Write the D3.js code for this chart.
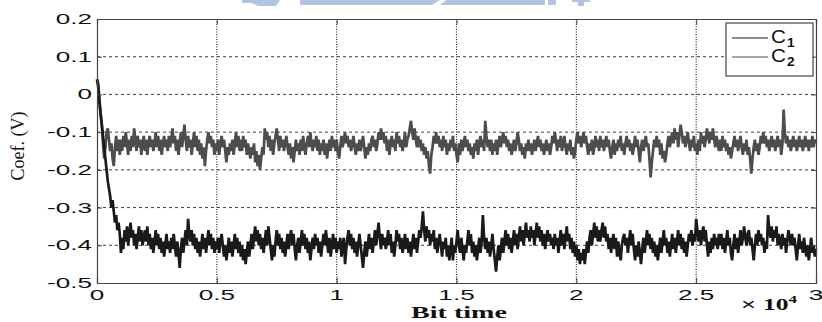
<!DOCTYPE html>
<html>
<head>
<meta charset="utf-8">
<script src="https://cdn.jsdelivr.net/npm/d3@7"></script>
<style>
  html, body { margin: 0; padding: 0; background: #fff; }
  svg { display: block; }
</style>
</head>
<body>
<svg id="chart" width="822" height="322"></svg>
<script>
// Adaptive equalizer tap coefficients over 30000 bit times, one sample every 50 bits.
const bitSpan = 30000;

const c1Values = [
  0.04, 0.02, -0.02, -0.05, -0.08, -0.11, -0.14, -0.17, -0.20, -0.23, -0.25, -0.27, -0.30, -0.28, -0.31, -0.34, -0.32, -0.36, -0.34, -0.37,
  -0.42, -0.38, -0.41, -0.36, -0.39, -0.35, -0.40, -0.37, -0.34, -0.38, -0.36, -0.40, -0.37, -0.41, -0.38, -0.35, -0.39, -0.36, -0.40, -0.38,
  -0.36, -0.39, -0.35, -0.40, -0.37, -0.41, -0.38, -0.42, -0.39, -0.36, -0.40, -0.37, -0.41, -0.38, -0.42, -0.39, -0.43, -0.40, -0.37, -0.41,
  -0.39, -0.42, -0.38, -0.41, -0.37, -0.40, -0.43, -0.39, -0.42, -0.46, -0.41, -0.38, -0.42, -0.39, -0.36, -0.40, -0.33, -0.37, -0.39, -0.36,
  -0.40, -0.37, -0.41, -0.38, -0.42, -0.39, -0.43, -0.40, -0.37, -0.41, -0.38, -0.42, -0.39, -0.36, -0.40, -0.37, -0.41, -0.38, -0.42, -0.39,
  -0.41, -0.38, -0.42, -0.39, -0.37, -0.40, -0.43, -0.40, -0.44, -0.41, -0.38, -0.42, -0.39, -0.43, -0.40, -0.37, -0.41, -0.38, -0.42, -0.39,
  -0.43, -0.40, -0.44, -0.41, -0.45, -0.42, -0.39, -0.43, -0.40, -0.37, -0.41, -0.38, -0.35, -0.39, -0.36, -0.40, -0.37, -0.41, -0.38, -0.42,
  -0.39, -0.36, -0.40, -0.35, -0.38, -0.41, -0.44, -0.40, -0.43, -0.39, -0.36, -0.40, -0.37, -0.41, -0.38, -0.42, -0.39, -0.43, -0.40, -0.37,
  -0.41, -0.38, -0.36, -0.40, -0.37, -0.41, -0.44, -0.40, -0.38, -0.42, -0.39, -0.36, -0.40, -0.37, -0.41, -0.38, -0.42, -0.39, -0.44, -0.41,
  -0.38, -0.41, -0.37, -0.40, -0.38, -0.42, -0.39, -0.43, -0.40, -0.37, -0.40, -0.36, -0.39, -0.42, -0.38, -0.43, -0.40, -0.37, -0.41, -0.38,
  -0.42, -0.39, -0.41, -0.38, -0.43, -0.40, -0.38, -0.45, -0.41, -0.38, -0.36, -0.40, -0.37, -0.41, -0.38, -0.42, -0.39, -0.43, -0.40, -0.37,
  -0.40, -0.43, -0.46, -0.42, -0.39, -0.43, -0.40, -0.37, -0.41, -0.38, -0.42, -0.39, -0.36, -0.40, -0.37, -0.34, -0.38, -0.41, -0.37, -0.40,
  -0.38, -0.41, -0.39, -0.36, -0.40, -0.37, -0.42, -0.39, -0.43, -0.40, -0.36, -0.39, -0.37, -0.41, -0.38, -0.42, -0.40, -0.37, -0.41, -0.38,
  -0.42, -0.39, -0.43, -0.40, -0.37, -0.41, -0.38, -0.42, -0.39, -0.36, -0.38, -0.35, -0.31, -0.36, -0.39, -0.35, -0.38, -0.36, -0.40, -0.37,
  -0.39, -0.36, -0.41, -0.38, -0.42, -0.39, -0.37, -0.40, -0.43, -0.39, -0.41, -0.38, -0.43, -0.40, -0.44, -0.41, -0.38, -0.44, -0.40, -0.42,
  -0.39, -0.36, -0.40, -0.42, -0.38, -0.41, -0.44, -0.40, -0.42, -0.39, -0.36, -0.40, -0.37, -0.42, -0.39, -0.43, -0.40, -0.44, -0.41, -0.38,
  -0.42, -0.39, -0.32, -0.38, -0.41, -0.38, -0.42, -0.39, -0.43, -0.40, -0.37, -0.41, -0.44, -0.47, -0.43, -0.40, -0.44, -0.41, -0.38, -0.42,
  -0.39, -0.36, -0.40, -0.37, -0.41, -0.38, -0.42, -0.39, -0.36, -0.40, -0.37, -0.41, -0.38, -0.35, -0.39, -0.36, -0.40, -0.37, -0.34, -0.38,
  -0.36, -0.39, -0.35, -0.38, -0.36, -0.40, -0.37, -0.34, -0.38, -0.35, -0.39, -0.36, -0.40, -0.37, -0.41, -0.38, -0.36, -0.39, -0.37, -0.40,
  -0.38, -0.41, -0.37, -0.40, -0.38, -0.42, -0.39, -0.36, -0.40, -0.37, -0.41, -0.38, -0.35, -0.39, -0.37, -0.41, -0.38, -0.42, -0.39, -0.43,
  -0.40, -0.44, -0.41, -0.45, -0.42, -0.44, -0.41, -0.45, -0.42, -0.39, -0.42, -0.38, -0.36, -0.40, -0.37, -0.34, -0.38, -0.35, -0.39, -0.36,
  -0.39, -0.36, -0.34, -0.38, -0.35, -0.39, -0.37, -0.41, -0.38, -0.42, -0.39, -0.37, -0.41, -0.38, -0.43, -0.39, -0.42, -0.44, -0.40, -0.38,
  -0.37, -0.40, -0.38, -0.42, -0.39, -0.36, -0.40, -0.37, -0.41, -0.44, -0.40, -0.43, -0.39, -0.42, -0.45, -0.41, -0.38, -0.42, -0.39, -0.36,
  -0.40, -0.37, -0.41, -0.38, -0.42, -0.39, -0.43, -0.40, -0.44, -0.41, -0.38, -0.42, -0.39, -0.36, -0.40, -0.38, -0.42, -0.39, -0.43, -0.40,
  -0.37, -0.41, -0.38, -0.42, -0.39, -0.36, -0.40, -0.37, -0.41, -0.38, -0.42, -0.39, -0.43, -0.40, -0.37, -0.39, -0.36, -0.40, -0.37, -0.39,
  -0.33, -0.36, -0.39, -0.36, -0.40, -0.37, -0.35, -0.39, -0.36, -0.40, -0.43, -0.39, -0.42, -0.38, -0.41, -0.37, -0.40, -0.38, -0.41, -0.37,
  -0.40, -0.37, -0.41, -0.38, -0.42, -0.39, -0.36, -0.40, -0.38, -0.42, -0.44, -0.40, -0.37, -0.41, -0.38, -0.42, -0.39, -0.36, -0.40, -0.38,
  -0.35, -0.38, -0.40, -0.37, -0.36, -0.40, -0.38, -0.41, -0.44, -0.40, -0.37, -0.40, -0.36, -0.39, -0.37, -0.40, -0.38, -0.42, -0.39, -0.41,
  -0.32, -0.36, -0.38, -0.35, -0.39, -0.36, -0.38, -0.35, -0.40, -0.37, -0.39, -0.41, -0.37, -0.40, -0.38, -0.42, -0.39, -0.36, -0.38, -0.40,
  -0.37, -0.40, -0.38, -0.41, -0.44, -0.40, -0.37, -0.41, -0.39, -0.42, -0.38, -0.41, -0.43, -0.40, -0.44, -0.41, -0.38, -0.42, -0.40, -0.43,
  -0.41
];

const c2Values = [
  0.04, 0.03, -0.01, -0.05, -0.08, -0.13, -0.17, -0.14, -0.10, -0.09, -0.12, -0.15, -0.13, -0.17, -0.19, -0.14, -0.11, -0.15, -0.12, -0.16,
  -0.12, -0.15, -0.11, -0.14, -0.10, -0.13, -0.16, -0.12, -0.15, -0.11, -0.14, -0.09, -0.12, -0.15, -0.11, -0.14, -0.12, -0.16, -0.13, -0.11,
  -0.15, -0.12, -0.16, -0.13, -0.11, -0.14, -0.12, -0.15, -0.13, -0.10, -0.14, -0.11, -0.15, -0.12, -0.16, -0.13, -0.11, -0.14, -0.12, -0.15,
  -0.11, -0.14, -0.12, -0.09, -0.13, -0.11, -0.15, -0.12, -0.16, -0.13, -0.10, -0.14, -0.11, -0.08, -0.12, -0.15, -0.11, -0.14, -0.12, -0.16,
  -0.13, -0.10, -0.14, -0.11, -0.15, -0.12, -0.16, -0.13, -0.17, -0.14, -0.19, -0.15, -0.12, -0.10, -0.13, -0.11, -0.14, -0.12, -0.16, -0.13,
  -0.15, -0.12, -0.16, -0.13, -0.11, -0.14, -0.12, -0.15, -0.18, -0.14, -0.16, -0.13, -0.15, -0.12, -0.16, -0.13, -0.10, -0.14, -0.11, -0.15,
  -0.12, -0.15, -0.11, -0.14, -0.12, -0.16, -0.13, -0.15, -0.17, -0.14, -0.16, -0.13, -0.18, -0.15, -0.19, -0.16, -0.20, -0.17, -0.14, -0.16,
  -0.09, -0.12, -0.10, -0.14, -0.11, -0.15, -0.12, -0.16, -0.13, -0.11, -0.09, -0.12, -0.15, -0.11, -0.14, -0.12, -0.15, -0.13, -0.11, -0.14,
  -0.16, -0.13, -0.17, -0.14, -0.18, -0.15, -0.12, -0.15, -0.13, -0.16, -0.12, -0.15, -0.11, -0.14, -0.16, -0.13, -0.11, -0.14, -0.10, -0.13,
  -0.15, -0.12, -0.14, -0.11, -0.15, -0.12, -0.16, -0.13, -0.15, -0.12, -0.16, -0.13, -0.17, -0.14, -0.12, -0.15, -0.11, -0.14, -0.12, -0.15,
  -0.12, -0.15, -0.17, -0.14, -0.11, -0.14, -0.12, -0.10, -0.13, -0.11, -0.14, -0.12, -0.15, -0.13, -0.11, -0.14, -0.16, -0.13, -0.15, -0.12,
  -0.15, -0.13, -0.11, -0.14, -0.17, -0.14, -0.16, -0.13, -0.15, -0.12, -0.11, -0.14, -0.12, -0.15, -0.13, -0.10, -0.12, -0.09, -0.12, -0.10,
  -0.13, -0.11, -0.15, -0.12, -0.16, -0.13, -0.11, -0.14, -0.12, -0.15, -0.10, -0.13, -0.11, -0.14, -0.12, -0.15, -0.13, -0.10, -0.14, -0.12,
  -0.11, -0.09, -0.07, -0.10, -0.12, -0.09, -0.12, -0.14, -0.11, -0.14, -0.12, -0.15, -0.13, -0.16, -0.14, -0.17, -0.15, -0.19, -0.21, -0.16,
  -0.14, -0.11, -0.13, -0.10, -0.13, -0.11, -0.14, -0.12, -0.15, -0.11, -0.14, -0.12, -0.16, -0.13, -0.15, -0.12, -0.14, -0.11, -0.15, -0.13,
  -0.16, -0.18, -0.13, -0.16, -0.12, -0.15, -0.13, -0.11, -0.14, -0.12, -0.15, -0.13, -0.16, -0.14, -0.17, -0.13, -0.15, -0.12, -0.16, -0.13,
  -0.11, -0.14, -0.12, -0.15, -0.07, -0.11, -0.14, -0.12, -0.15, -0.12, -0.16, -0.13, -0.15, -0.12, -0.16, -0.13, -0.11, -0.14, -0.12, -0.10,
  -0.13, -0.11, -0.14, -0.12, -0.15, -0.13, -0.16, -0.14, -0.12, -0.15, -0.13, -0.10, -0.12, -0.15, -0.13, -0.16, -0.14, -0.17, -0.13, -0.15,
  -0.12, -0.15, -0.13, -0.16, -0.14, -0.12, -0.15, -0.13, -0.11, -0.14, -0.12, -0.15, -0.13, -0.16, -0.14, -0.12, -0.15, -0.13, -0.16, -0.14,
  -0.11, -0.13, -0.10, -0.12, -0.15, -0.12, -0.14, -0.11, -0.15, -0.13, -0.11, -0.14, -0.16, -0.13, -0.15, -0.12, -0.16, -0.14, -0.17, -0.15,
  -0.12, -0.10, -0.13, -0.11, -0.14, -0.12, -0.10, -0.13, -0.11, -0.14, -0.16, -0.13, -0.15, -0.12, -0.16, -0.14, -0.11, -0.14, -0.12, -0.15,
  -0.11, -0.14, -0.12, -0.15, -0.13, -0.11, -0.14, -0.12, -0.15, -0.17, -0.14, -0.12, -0.16, -0.13, -0.15, -0.12, -0.14, -0.11, -0.15, -0.13,
  -0.16, -0.13, -0.11, -0.14, -0.12, -0.15, -0.13, -0.16, -0.14, -0.11, -0.14, -0.12, -0.15, -0.18, -0.14, -0.12, -0.15, -0.13, -0.11, -0.14,
  -0.13, -0.17, -0.22, -0.18, -0.15, -0.12, -0.14, -0.11, -0.14, -0.12, -0.16, -0.13, -0.17, -0.15, -0.18, -0.16, -0.13, -0.11, -0.14, -0.12,
  -0.10, -0.13, -0.09, -0.12, -0.10, -0.14, -0.11, -0.08, -0.10, -0.13, -0.11, -0.14, -0.12, -0.10, -0.13, -0.15, -0.12, -0.14, -0.11, -0.15,
  -0.13, -0.16, -0.12, -0.15, -0.10, -0.13, -0.11, -0.14, -0.12, -0.09, -0.11, -0.13, -0.10, -0.12, -0.09, -0.12, -0.14, -0.11, -0.13, -0.15,
  -0.12, -0.15, -0.11, -0.14, -0.12, -0.15, -0.13, -0.16, -0.14, -0.17, -0.15, -0.13, -0.11, -0.14, -0.12, -0.15, -0.13, -0.11, -0.14, -0.16,
  -0.13, -0.15, -0.12, -0.16, -0.14, -0.17, -0.21, -0.17, -0.14, -0.12, -0.15, -0.13, -0.16, -0.14, -0.11, -0.13, -0.10, -0.13, -0.11, -0.14,
  -0.12, -0.15, -0.13, -0.11, -0.14, -0.12, -0.15, -0.13, -0.11, -0.14, -0.12, -0.16, -0.13, -0.04, -0.10, -0.13, -0.11, -0.14, -0.12, -0.15,
  -0.13, -0.11, -0.14, -0.12, -0.15, -0.13, -0.11, -0.14, -0.12, -0.15, -0.13, -0.11, -0.14, -0.12, -0.15, -0.12, -0.14, -0.11, -0.14, -0.12,
  -0.13
];

const seriesNames = ["C", "C"];
const seriesSubs = ["1", "2"];
const seriesColors = ["#1a1a1a", "#4d4d4d"];

const xTicks = [0, 5000, 10000, 15000, 20000, 25000, 30000];
const xTickLabels = ["0", "0.5", "1", "1.5", "2", "2.5", "3"];
const yTicks = [0.2, 0.1, 0, -0.1, -0.2, -0.3, -0.4, -0.5];
const yTickLabels = ["0.2", "0.1", "0", "-0.1", "-0.2", "-0.3", "-0.4", "-0.5"];

const svg = d3.select("#chart");
const W = 822, H = 322;
const m = { left: 97, right: 6, top: 19, bottom: 39 };
const x0 = m.left, x1 = W - m.right, y0 = m.top, y1 = H - m.bottom;

const x = d3.scaleLinear().domain([0, bitSpan]).range([x0, x1]);
const y = d3.scaleLinear().domain([-0.5, 0.2]).range([y1, y0]);

const SANS = "Liberation Sans, Arial, Helvetica, sans-serif";
const SERIF = "Liberation Serif, Times New Roman, serif";

// Text helper: wide lettering via a horizontal scale about the anchor point
function wideText(parent, px, py, sx, opts) {
  return parent.append("text")
    .attr("transform", `translate(${px},${py}) scale(${sx},1)`)
    .attr("text-anchor", opts.anchor || "start")
    .attr("font-family", opts.family || SANS)
    .attr("font-size", opts.size || 14)
    .attr("font-weight", opts.weight || "normal")
    .attr("fill", "#111");
}

// Light blue banner fragment along the top edge
const banner = svg.append("g").attr("fill", "#b3c4e2");
banner.append("path").attr("d", "M242,0 L280,0 L276,6 L258,6 L252,3 L242,3 Z");
banner.append("path").attr("d", "M300,0 L440,0 L432,5 L300,5 Z");
banner.append("path").attr("d", "M446,0 L545,0 L545,5 L440,5 Z");
banner.append("path").attr("d", "M548,0 L556,0 L556,5 L548,5 Z");
banner.append("path").attr("d", "M572,0 L590,0 L590,2 L584,2 L584,6 L578,6 L578,2 L572,2 Z");

// Grid lines
const grid = svg.append("g");
grid.selectAll("line.h").data(yTicks.slice(1, -1)).join("line")
  .attr("x1", x0).attr("x2", x1)
  .attr("y1", d => y(d)).attr("y2", d => y(d))
  .attr("stroke", "#2a2a2a").attr("stroke-width", 0.9).attr("stroke-dasharray", "3,3");
grid.selectAll("line.v").data(xTicks.slice(1, -1)).join("line")
  .attr("y1", y0).attr("y2", y1)
  .attr("x1", d => x(d)).attr("x2", d => x(d))
  .attr("stroke", "#1a1a1a").attr("stroke-width", 1.1).attr("stroke-dasharray", "1,1.5");

// Series lines
const lineFor = (n) => d3.line()
  .x((d, i) => x(i * bitSpan / (n - 1)))
  .y(d => y(d));
[[c2Values, 1], [c1Values, 0]].forEach(([vals, k]) => {
  svg.append("path").datum(vals)
    .attr("fill", "none")
    .attr("stroke", seriesColors[k])
    .attr("stroke-width", 2.7)
    .attr("stroke-linejoin", "miter")
    .attr("stroke-miterlimit", 2)
    .attr("d", lineFor(vals.length));
});

// Axes frame with inward ticks
const axisColor = "#444";
const gx = svg.append("g").attr("transform", `translate(0,${y1})`)
  .call(d3.axisBottom(x).tickValues(xTicks).tickFormat("").tickSize(-5));
const gy = svg.append("g").attr("transform", `translate(${x0},0)`)
  .call(d3.axisLeft(y).tickValues(yTicks).tickFormat("").tickSize(-5));
const gt = svg.append("g").attr("transform", `translate(0,${y0})`)
  .call(d3.axisTop(x).tickValues(xTicks).tickFormat("").tickSize(-5));
const gr = svg.append("g").attr("transform", `translate(${x1},0)`)
  .call(d3.axisRight(y).tickValues(yTicks).tickFormat("").tickSize(-5));
[gx, gy, gt, gr].forEach(g => {
  g.selectAll(".domain").attr("stroke", axisColor).attr("stroke-width", 1.2);
  g.selectAll(".tick line").attr("stroke", axisColor);
});

// Tick labels
const labels = svg.append("g");
xTicks.forEach((d, i) => {
  wideText(labels, x(d), 300, 1.8, { anchor: "middle", size: 14.5 }).text(xTickLabels[i]);
});
yTicks.forEach((d, i) => {
  wideText(labels, x0 - 5, y(d) + 5, 1.8, { anchor: "end", size: 14.5 }).text(yTickLabels[i]);
});

// Axis titles
wideText(svg, 459, 318, 1.65, { anchor: "middle", family: SERIF, weight: "bold", size: 17 })
  .text("Bit time");

svg.append("text")
  .attr("transform", "translate(24,146) rotate(-90)")
  .attr("text-anchor", "middle")
  .attr("font-family", SERIF)
  .attr("font-size", 18)
  .attr("fill", "#111")
  .text("Coef. (V)");

const mult = wideText(svg, 741, 310, 1.55, { family: SERIF, weight: "bold", size: 16.5 });
mult.append("tspan").attr("font-family", SANS).attr("font-weight", "normal").text("\u00d7 ");
mult.append("tspan").text("10");
mult.append("tspan").attr("font-size", 11).attr("dy", -7).text("4");

// Legend
const lg = svg.append("g");
lg.append("rect").attr("x", 726).attr("y", 23).attr("width", 87).attr("height", 53)
  .attr("fill", "#fff").attr("stroke", "#444").attr("stroke-width", 1.2);
seriesNames.forEach((name, i) => {
  const ly = 38 + i * 19;
  lg.append("line").attr("x1", 732).attr("x2", 768).attr("y1", ly).attr("y2", ly)
    .attr("stroke", seriesColors[i]).attr("stroke-width", 1.1);
  const t = wideText(lg, 771, ly + 5, 1.15, { size: 18 });
  t.append("tspan").text(name);
  t.append("tspan").attr("font-size", 12).attr("dy", 4).attr("dx", 1).attr("font-weight", "bold").text(seriesSubs[i]);
});
</script>
</body>
</html>
